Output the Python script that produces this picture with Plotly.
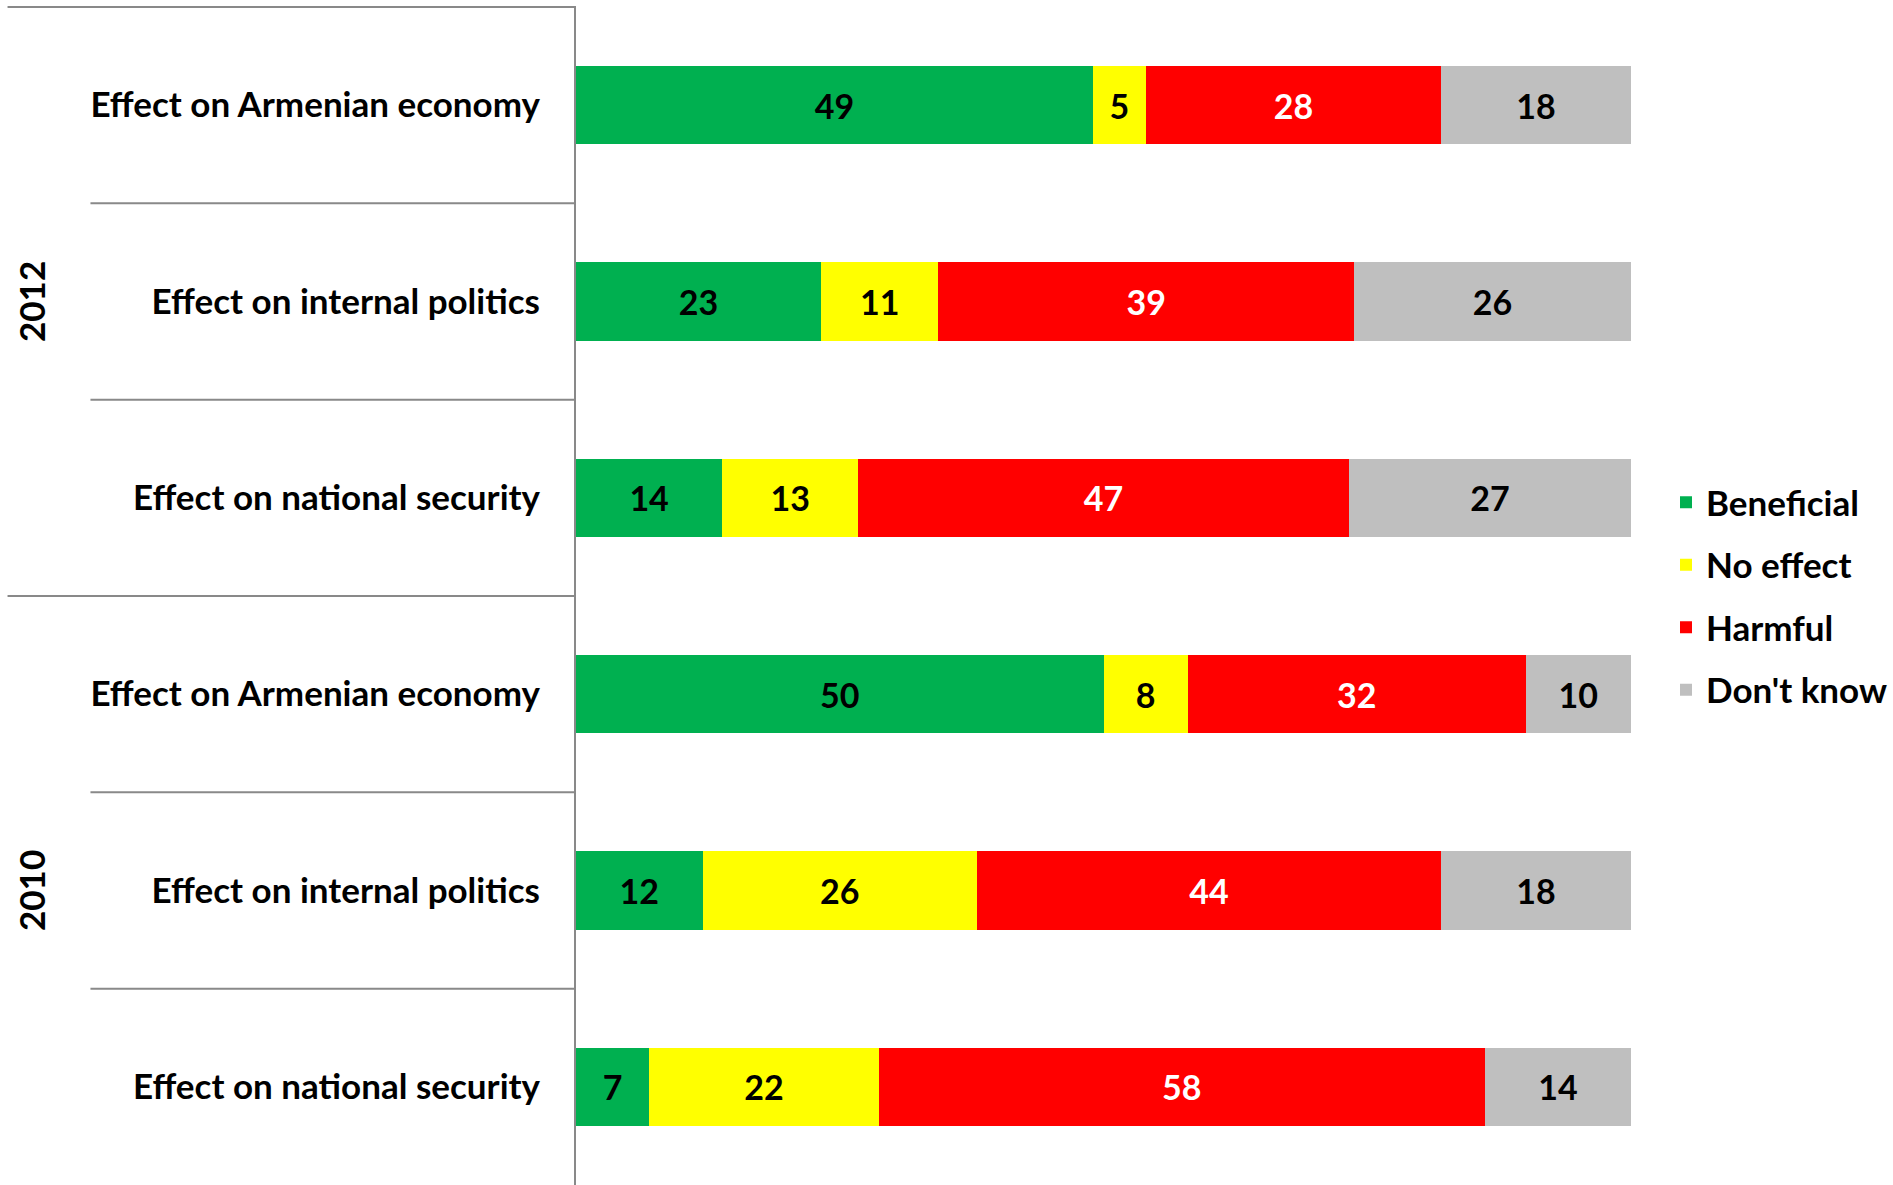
import plotly.graph_objects as go

# ---- data ----
years = ["2012", "2010"]
questions = [
    "Effect on Armenian economy",
    "Effect on internal politics",
    "Effect on national security",
    "Effect on Armenian economy",
    "Effect on internal politics",
    "Effect on national security",
]
beneficial = [49, 23, 14, 50, 12, 7]
no_effect = [5, 11, 13, 8, 26, 22]
harmful = [28, 39, 47, 32, 44, 58]
dont_know = [18, 26, 27, 10, 18, 14]

series_names = ["Beneficial", "No effect", "Harmful", "Don't know"]
series_values = [beneficial, no_effect, harmful, dont_know]
series_colors = ["#00B050", "#FFFF00", "#FF0000", "#BFBFBF"]
label_colors = ["#000000", "#000000", "#FFFFFF", "#000000"]

FONT = "Lato"
positions = list(range(len(questions)))

fig = go.Figure()
for name, vals, col, lc in zip(series_names, series_values, series_colors, label_colors):
    fig.add_trace(go.Bar(
        y=positions,
        x=vals,
        orientation="h",
        name=name,
        legendgroup=name,
        marker=dict(color=col, line=dict(width=0)),
        text=[str(v) for v in vals],
        texttemplate="%{text}",
        textposition="inside",
        insidetextanchor="middle",
        textangle=0,
        textfont=dict(family=FONT, size=34, color=lc, weight="bold"),
        hoverinfo="skip",
    ))

W, H = 1893, 1185
ml, mr, mt, mb = 576, 261, 7, 0
pw = W - ml - mr
n = len(questions)
shapes = []
for k in range(n):
    y = 1 - k / n
    x0 = (7 - ml) / pw if k % 3 == 0 else (90 - ml) / pw
    shapes.append(dict(type="line", xref="paper", yref="paper", x0=x0, x1=0, y0=y, y1=y,
                       line=dict(color="#898989", width=2)))

annotations = []
for yr, yc in zip(years, [0.75, 0.25]):
    annotations.append(dict(text=yr, xref="paper", yref="paper", x=(30 - ml) / pw, y=yc,
                            xanchor="center", yanchor="middle",
                            showarrow=False, textangle=-90,
                            font=dict(family=FONT, size=35, color="#000000", weight="bold")))

fig.update_layout(
    width=W, height=H,
    barmode="stack",
    barnorm="percent",
    bargap=0.6,
    plot_bgcolor="white",
    paper_bgcolor="white",
    margin=dict(l=ml, r=mr, t=mt, b=mb, pad=0),
    xaxis=dict(range=[0, 100], visible=False, showgrid=False, zeroline=False),
    yaxis=dict(
        tickmode="array", tickvals=positions, ticktext=questions,
        range=[n - 0.5, -0.5],
        showline=True, linecolor="#898989", linewidth=2,
        showgrid=False, zeroline=False, ticks="",
        ticklabelstandoff=27,
        tickfont=dict(family=FONT, size=35, color="#000000", weight="bold"),
    ),
    legend=dict(
        x=(1667 - ml) / pw, xanchor="left", y=0.5, yanchor="middle",
        font=dict(family=FONT, size=35, color="#000000", weight="bold"),
        tracegroupgap=14, traceorder="grouped",
        itemwidth=30,
    ),
    shapes=shapes,
    annotations=annotations,
    showlegend=True,
)

fig.write_html("out.html", config={"displayModeBar": False},
               post_script="document.body.style.margin='0';document.body.style.padding='0';")
